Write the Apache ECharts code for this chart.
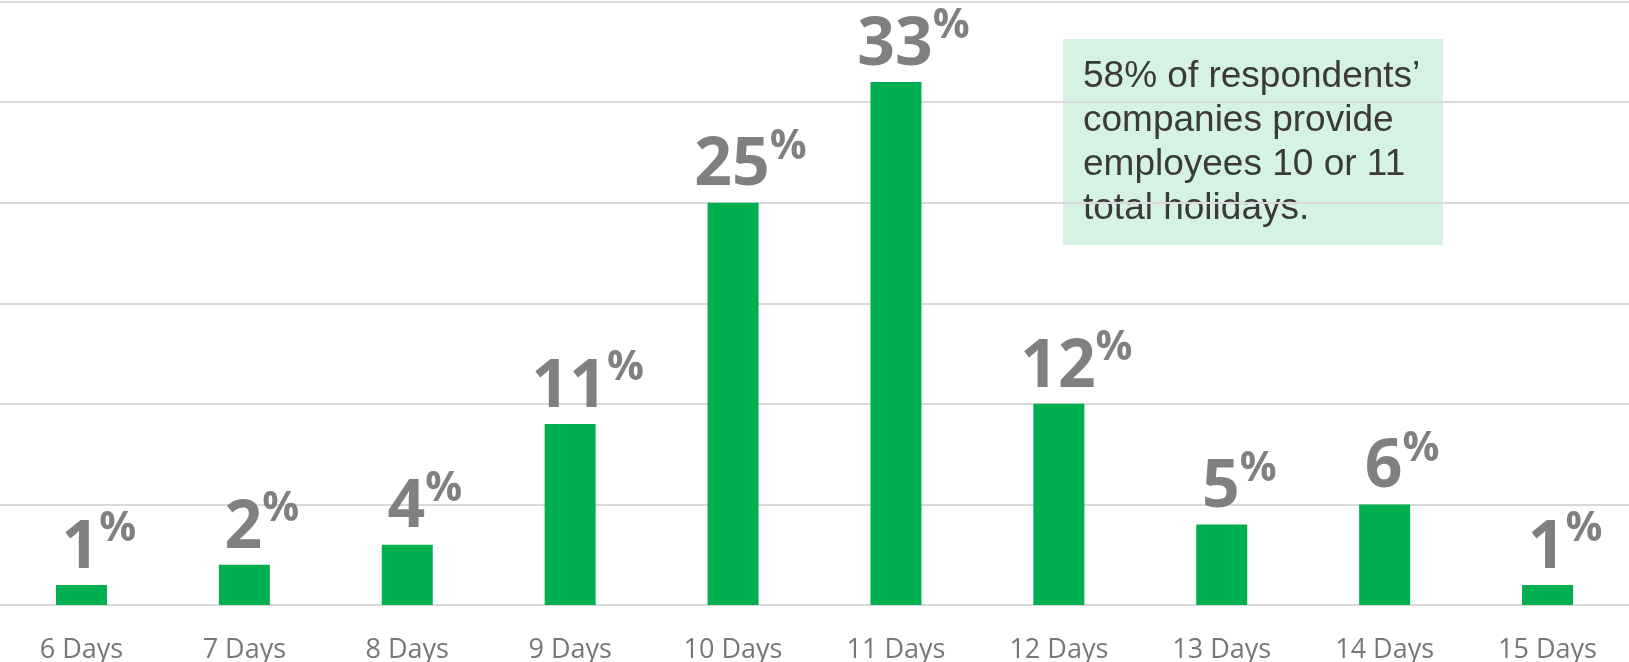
<!DOCTYPE html>
<html>
<head>
<meta charset="utf-8">
<script src="https://cdn.jsdelivr.net/npm/echarts@6/dist/echarts.min.js"></script>
<style>
  html, body { margin: 0; padding: 0; background: #ffffff; }
  #chart { width: 1629px; height: 662px; }
</style>
</head>
<body>
<div id="chart"></div>
<script>
// categories
const days = ['6 Days', '7 Days', '8 Days', '9 Days', '10 Days', '11 Days', '12 Days', '13 Days', '14 Days', '15 Days']
// bar heights (share of respondents, %)
const shares = [1.25, 2.5, 3.75, 11.25, 25, 32.5, 12.5, 5, 6.25, 1.25]
// printed labels above bars
const shareLabels = ['1', '2', '4', '11', '25', '33', '12', '5', '6', '1']
// y axis (hidden) ticks
const yMin = 0
const yMax = 37.5
const yStep = 6.25
const noteText = '58% of respondents’\ncompanies provide\nemployees 10 or 11\ntotal holidays.'

const myChart = echarts.init(document.getElementById('chart'))

const options = {
  animation: false,
  grid: {
    top: 1.5,
    bottom: 57,
    left: 0,
    right: 0,
    outerBoundsMode: 'none',
    containLabel: false
  },
  xAxis: {
    type: 'category',
    data: days,
    axisLine: { show: false },
    axisTick: { show: false },
    axisLabel: {
      color: '#777777',
      fontFamily: 'Open Sans',
      fontSize: 27,
      margin: 32
    }
  },
  yAxis: {
    type: 'value',
    min: yMin,
    max: yMax,
    interval: yStep,
    axisLabel: { show: false },
    axisLine: { show: false },
    axisTick: { show: false },
    splitLine: {
      lineStyle: { color: '#d9d9d9', width: 2 }
    }
  },
  series: [{
    type: 'bar',
    data: shares,
    barWidth: 51,
    itemStyle: { color: '#00b050' },
    label: {
      show: true,
      position: 'top',
      distance: 3,
      formatter: function (p) {
        return '{s| }{n|' + shareLabels[p.dataIndex] + '}{p|%}'
      },
      rich: {
        s: { width: 35, fontSize: 10 },
        n: {
          fontFamily: 'Open Sans',
          fontWeight: 'bold',
          fontSize: 66,
          lineHeight: 66,
          color: '#808080',
          verticalAlign: 'bottom'
        },
        p: {
          fontFamily: 'Open Sans',
          fontWeight: 'bold',
          fontSize: 41,
          lineHeight: 30,
          padding: [0, 0, 32, 0],
          color: '#808080',
          verticalAlign: 'bottom'
        }
      }
    }
  }],
  graphic: [{
    type: 'group',
    left: 1063,
    top: 39,
    z: 10,
    children: [{
      type: 'rect',
      shape: { x: 0, y: 0, width: 380, height: 206 },
      style: { fill: 'rgba(0,176,80,0.16)' }
    }, {
      type: 'text',
      x: 20,
      y: 16,
      style: {
        text: noteText,
        font: '37px "Liberation Sans", Arial, sans-serif',
        lineHeight: 44,
        fill: '#3a3a3a',
        textVerticalAlign: 'top'
      }
    }]
  }]
}
myChart.setOption(options)
</script>
</body>
</html>
